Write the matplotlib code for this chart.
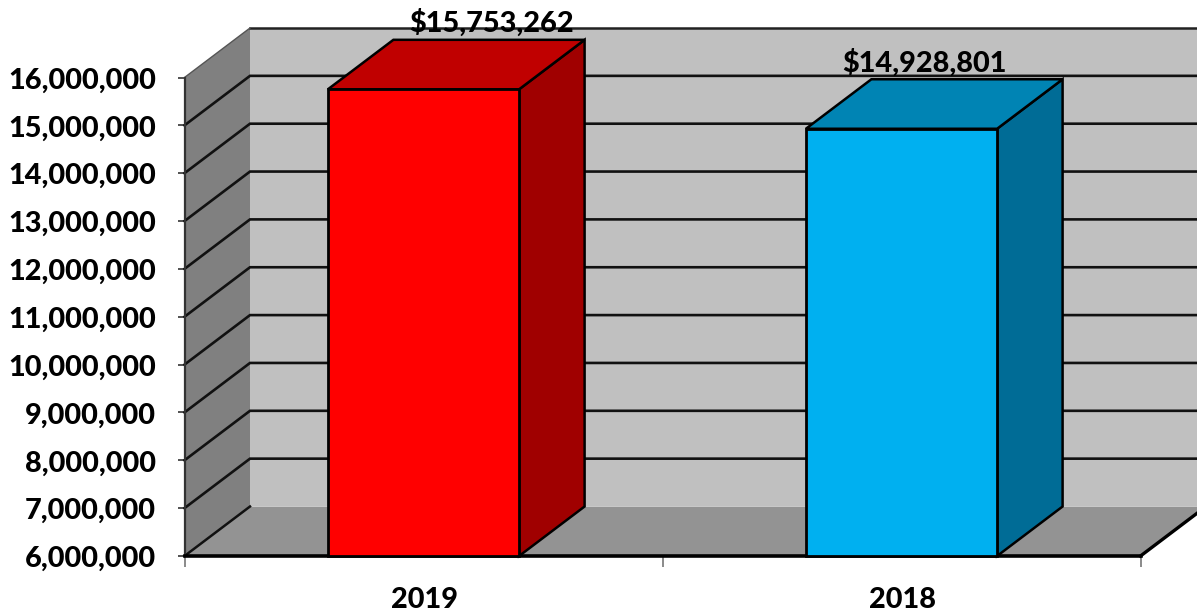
import matplotlib
matplotlib.use("Agg")
import matplotlib.pyplot as plt
from matplotlib.patches import Polygon
from matplotlib.transforms import ScaledTranslation

categories = ["2019", "2018"]
values = [15753262, 14928801]
value_labels = ["$15,753,262", "$14,928,801"]
bar_colors = [("#FF0000", "#C00000", "#A00000"), ("#00B0F0", "#0084B4", "#006C96")]
y_ticks = list(range(6000000, 17000000, 1000000))
label_shift_px = [35, -10]

W, H = 1197, 612
FW = 900
plt.rcParams["font.family"] = ["Lato", "DejaVu Sans"]
plt.rcParams["font.weight"] = FW
fig = plt.figure(figsize=(W / 100, H / 100), dpi=100)
ax = fig.add_axes([184.5 / W, 1 - 556 / H, 956 / W, 478.5 / H])
ax.set_xlim(0, len(categories))
ax.set_ylim(y_ticks[0], y_ticks[-1])
ax.patch.set_visible(False)
for s in ax.spines.values():
    s.set_visible(False)

# depth of the 3-D box in data units
DX = 65.5 / (956 / len(categories))
DY = 49.5 / (478.5 / (y_ticks[-1] - y_ticks[0]))
x_end = len(categories)
y0, y1 = y_ticks[0], y_ticks[-1]
EX = 0.2  # back wall runs past the picture edge


def poly(pts, fc, ec="none", lw=0, z=1):
    ax.add_patch(Polygon(pts, closed=True, facecolor=fc, edgecolor=ec, linewidth=lw,
                         joinstyle="miter", clip_on=False, zorder=z))


# back wall, side wall, floor
poly([(DX, y0 + DY), (x_end + EX, y0 + DY), (x_end + EX, y1 + DY), (DX, y1 + DY)], "#C0C0C0", z=1)
poly([(0, y0), (DX, y0 + DY), (DX, y1 + DY), (0, y1)], "#808080", z=1)
poly([(0, y0), (x_end, y0), (x_end + DX, y0 + DY), (DX, y0 + DY)], "#939393", z=1)

# gridlines
for t in y_ticks[1:-1]:
    ax.plot([0, DX, x_end + EX], [t, t + DY, t + DY], color="#111111", lw=1.9, clip_on=False,
            zorder=2, solid_joinstyle="miter")
ax.plot([DX, x_end + EX], [y1 + DY, y1 + DY], color="#222222", lw=1.8, clip_on=False, zorder=2)
ax.plot([0, DX], [y1, y1 + DY], color="#555555", lw=1.0, clip_on=False, zorder=2)
ax.plot([0, DX], [y0, y0 + DY], color="#111111", lw=1.8, clip_on=False, zorder=2)
ax.plot([x_end, x_end + DX], [y0, y0 + DY], color="#000000", lw=2.4, clip_on=False, zorder=2)
ax.plot([0, 0], [y0, y1], color="#333333", lw=1.6, clip_on=False, zorder=2)
ax.plot([0, x_end], [y0, y0], color="#000000", lw=2.6, clip_on=False, zorder=2)

# bars
BAR_W = 0.4
for i, (v, lab, (front, top, side)) in enumerate(zip(values, value_labels, bar_colors)):
    cx = i + 0.5
    l, r = cx - BAR_W / 2, cx + BAR_W / 2
    poly([(r, y0), (r + DX, y0 + DY), (r + DX, v + DY), (r, v)], side, "#000000", 1.8, z=3)
    poly([(l, v), (r, v), (r + DX, v + DY), (l + DX, v + DY)], top, "#000000", 1.8, z=3)
    poly([(l, y0), (r, y0), (r, v), (l, v)], front, "#000000", 2.0, z=4)
    ax.annotate(lab, xy=(cx + DX / 2, v + DY), xytext=(label_shift_px[i] * 0.72, 2),
                textcoords="offset points", ha="center", va="bottom", fontsize=20.8,
                fontweight=FW, color="#000000", annotation_clip=False, zorder=5)

ax.set_yticks(y_ticks)
ax.set_yticklabels([f"{t:,}" for t in y_ticks], va="center")
ax.set_xticks(range(len(categories) + 1))
ax.set_xticklabels([""] * (len(categories) + 1))
ax.tick_params(axis="y", length=5, width=1.2, color="#333333", pad=15.5, labelsize=20.8)
ax.tick_params(axis="x", length=8, width=1.2, color="#777777")
down = ScaledTranslation(0, -3 / 100, fig.dpi_scale_trans)
for lb in ax.get_yticklabels():
    lb.set_transform(lb.get_transform() + down)
for i, c in enumerate(categories):
    ax.annotate(c, xy=(i + 0.5, y0), xytext=(1, -22.5), textcoords="offset points", ha="center",
                va="top", fontsize=20.8, fontweight=FW, annotation_clip=False)

fig.savefig("out.png", dpi=100, facecolor="white")
